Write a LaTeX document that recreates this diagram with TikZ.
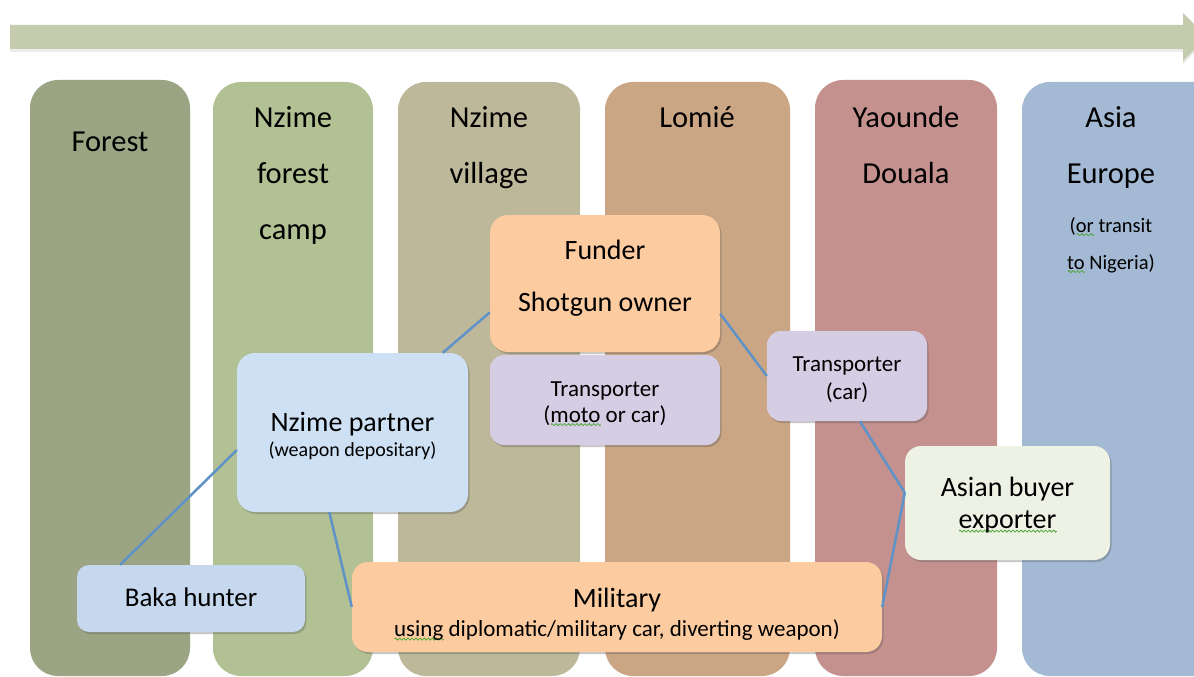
\documentclass[tikz,border=0pt]{standalone}
\usepackage{fontspec}
\setmainfont{Carlito}
\usetikzlibrary{calc,shadows}

\definecolor{arrowgreen}{HTML}{C5CCAE}
\definecolor{colforest}{HTML}{9BA584}
\definecolor{colcamp}{HTML}{B2C194}
\definecolor{colvillage}{HTML}{BDB89A}
\definecolor{collomie}{HTML}{CBA684}
\definecolor{colyaounde}{HTML}{C4918F}
\definecolor{colasia}{HTML}{A3B9D4}
\definecolor{peach}{HTML}{FDCBA0}
\definecolor{lavender}{HTML}{D5CDE3}
\definecolor{paleblue}{HTML}{CEE0F4}
\definecolor{bakablue}{HTML}{C6D8EE}
\definecolor{palegreen}{HTML}{EEF2E4}
\definecolor{linkblue}{HTML}{5F93C8}
\definecolor{spellgreen}{HTML}{4FA83A}

% wavy spell-check underline, built from one repeated wave period
\newsavebox\wavebox
\newcommand\spellmark[1]{\setbox0=\hbox{#1}\rlap{\lower4pt\hbox to\wd0{\xleaders\copy\wavebox\hfill}}\box0\relax}

\begin{document}
\sbox\wavebox{\begin{pgfpicture}
  \pgfsetlinewidth{0.8pt}\pgfsetstrokecolor{spellgreen}
  \pgfpathmoveto{\pgfpoint{0pt}{0pt}}
  \pgfpathsine{\pgfpoint{1pt}{1pt}}\pgfpathcosine{\pgfpoint{1pt}{-1pt}}
  \pgfpathsine{\pgfpoint{1pt}{-1pt}}\pgfpathcosine{\pgfpoint{1pt}{1pt}}
  \pgfusepath{stroke}
\end{pgfpicture}}
\wd\wavebox=4pt
\begin{tikzpicture}[x=1pt,y=-1pt,
  colbox/.style={rounded corners=28pt},
  % text height fixes where the last text line sits in the box
  box/.style={rounded corners=18pt, align=center, inner sep=0pt, text depth=0pt,
    drop shadow={shadow xshift=1.5pt,shadow yshift=-2pt,opacity=0.3,fill=black!70}},
  link/.style={linkblue, line width=2.5pt},
  collabel/.style={align=center, font=\fontsize{30.5}{56}\selectfont, anchor=base, inner sep=0pt},
  notelabel/.style={align=center, font=\fontsize{20.5}{37}\selectfont, anchor=base, inner sep=0pt}
]
\clip (0,0) rectangle (1194,677);
\fill[white] (0,0) rectangle (1194,677);

% time arrow along the top
\fill[arrowgreen, drop shadow={shadow xshift=0pt,shadow yshift=-3pt,opacity=0.15}]
  (10,25) -- (1183,25) -- (1183,13) -- (1207,37) -- (1183,61) -- (1183,49) -- (10,49) -- cycle;

% place columns
\fill[colforest, colbox]  (30,80)   rectangle (190,676);
\fill[colcamp, colbox]    (213,82)  rectangle (373,676);
\fill[colvillage, colbox] (398,82)  rectangle (580,676);
\fill[collomie, colbox]   (605,82)  rectangle (790,676);
\fill[colyaounde, colbox] (815,80)  rectangle (997,676);
\fill[colasia, colbox]    (1022,82) rectangle (1230,676);

% column headings (anchored at the baseline of their last line)
\node[collabel] (lforest)  at (110,151.5) {Forest};
\node[collabel] (lcamp)    at (293,239.5) {Nzime\\forest\\camp};
\node[collabel] (lvillage) at (489,183.5) {Nzime\\village};
\node[collabel] (llomie)   at (697,127.5) {Lomié};
\node[collabel] (lyaounde) at (906,183.5) {Yaounde\\Douala};
\node[collabel] (lasia)    at (1111,183.5) {Asia\\Europe};
\node[notelabel] (lnote)   at (1111,269) {(\spellmark{or} transit\\\spellmark{to} Nigeria)};

% actors
\node[box, fill=peach, minimum width=230pt, minimum height=137pt, text height=56pt,
  font=\fontsize{28}{52}\selectfont] (funder) at (605,283.5) {Funder\\Shotgun owner};
\node[box, fill=lavender, minimum width=230pt, minimum height=90pt, rounded corners=14pt,
  text height=44pt, font=\fontsize{23}{26}\selectfont] (tmoto) at (605,400)
  {Transporter\\(\spellmark{moto} or car)};
\node[box, fill=paleblue, minimum width=231pt, minimum height=159pt, text height=47pt,
  font=\fontsize{28}{24.5}\selectfont] (partner) at (352.5,432.5)
  {Nzime partner\\\fontsize{20}{24.5}\selectfont(weapon depositary)};
\node[box, fill=bakablue, minimum width=228pt, minimum height=67pt, rounded corners=12pt,
  text height=15pt, font=\fontsize{27}{30}\selectfont] (baka) at (191,598.5) {Baka hunter};
\node[box, fill=peach, minimum width=530pt, minimum height=90pt, rounded corners=16pt,
  text height=59pt, font=\fontsize{28}{29}\selectfont] (military) at (617,607)
  {Military\\\fontsize{23}{29}\selectfont\spellmark{using} diplomatic/military car, diverting weapon)};
\node[box, fill=lavender, minimum width=160pt, minimum height=90pt, rounded corners=14pt,
  text height=46pt, font=\fontsize{23}{28}\selectfont] (tcar) at (847,376) {Transporter\\(car)};
\node[box, fill=palegreen, minimum width=205pt, minimum height=114pt, rounded corners=16pt,
  text height=51pt, font=\fontsize{28}{32}\selectfont] (buyer) at (1007.5,503)
  {Asian buyer\\\spellmark{exporter}};

% links between actors
\draw[link] ($(funder.north west)!0.71!(funder.south west)$) -- ($(partner.north west)!0.89!(partner.north east)$);
\draw[link] ($(funder.north east)!0.72!(funder.south east)$) -- (tcar.west);
\draw[link] ($(tcar.south west)!0.58!(tcar.south east)$) -- ($(buyer.north west)!0.41!(buyer.south west)$)
  coordinate (buyerin);
\draw[link] (buyerin) -- (military.east);
\draw[link] ($(partner.north west)!0.61!(partner.south west)$) -- ($(baka.north west)!0.19!(baka.north east)$);
\draw[link] ($(partner.south west)!0.40!(partner.south east)$) -- (military.west);
\end{tikzpicture}
\end{document}
